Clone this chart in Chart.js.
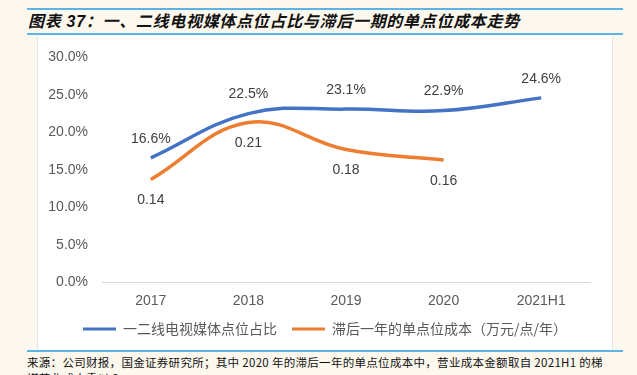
<!DOCTYPE html>
<html>
<head>
<meta charset="utf-8">
<script src="https://cdn.jsdelivr.net/npm/chart.js@4"></script>
<style>
  html, body { margin: 0; padding: 0; }
  body { width: 637px; height: 375px; background: #fdf8ee; position: relative; overflow: hidden;
         font-family: "Liberation Sans", "Noto Sans CJK SC", sans-serif; }
  .rule { position: absolute; left: 27px; width: 596px; height: 2px; background: #5bb4e5; }
  #title { position: absolute; left: 28px; top: 8px; font-size: 16px; font-weight: bold; font-style: italic;
           color: #111; font-family: "Liberation Sans", "Noto Sans CJK SC", sans-serif; letter-spacing: 0.7px; }
  #box { position: absolute; left: 37px; top: 35px; width: 574px; height: 315px; background: #fff;
         border-left: 1px solid #e6e6e6; border-right: 1px solid #e6e6e6; }
  #foot { position: absolute; left: 27px; top: 354px; width: 610px; font-size: 11.5px; line-height: 16px; color: #111;
          font-family: "Noto Sans CJK SC", sans-serif; letter-spacing: 0.3px; white-space: nowrap; }
</style>
</head>
<body>
<div class="rule" style="top:8px"></div>
<div id="title">图表 37：一、二线电视媒体点位占比与滞后一期的单点位成本走势</div>
<div class="rule" style="top:33px"></div>
<div id="box"><canvas id="c" width="574" height="315"></canvas></div>
<div class="rule" style="top:350px"></div>
<div id="foot">来源：公司财报，国金证券研究所；其中 2020 年的滞后一年的单点位成本中，营业成本金额取自 2021H1 的梯<br>媒营业成本乘以 2</div>
<script>
const categories = ["2017", "2018", "2019", "2020", "2021H1"];
const shareValues = [0.166, 0.225, 0.231, 0.229, 0.246];
const costValues = [0.137, 0.213, 0.177, 0.163, null];
const yTicks = [0, 0.05, 0.10, 0.15, 0.20, 0.25, 0.30];

// draw value labels above (share) / below (cost) each point
const valueLabels = {
  id: "valueLabels",
  afterDatasetsDraw(chart) {
    const ctx = chart.ctx;
    ctx.save();
    ctx.font = "14px 'Liberation Sans'";
    ctx.fillStyle = "#404040";
    ctx.textAlign = "center";
    ctx.textBaseline = "middle";
    chart.data.datasets.forEach((ds, i) => {
      chart.getDatasetMeta(i).data.forEach((pt, j) => {
        const v = ds.data[j];
        if (v == null) return;
        if (i === 0) ctx.fillText((v * 100).toFixed(1) + "%", pt.x, pt.y - 19);
        else ctx.fillText(v.toFixed(2), pt.x, pt.y + 21);
      });
    });
    ctx.restore();
  }
};

new Chart(document.getElementById("c"), {
  type: "line",
  data: {
    labels: categories,
    datasets: [
      {
        label: "一二线电视媒体点位占比",
        data: shareValues,
        borderColor: "#4472c4",
        backgroundColor: "#4472c4",
        borderWidth: 3.5,
        tension: 0.4,
        pointRadius: 0,
        yAxisID: "y"
      },
      {
        label: "滞后一年的单点位成本（万元/点/年）",
        data: costValues,
        borderColor: "#ed7d31",
        backgroundColor: "#ed7d31",
        borderWidth: 3.5,
        tension: 0.4,
        pointRadius: 0,
        yAxisID: "y1"
      }
    ]
  },
  options: {
    responsive: false,
    animation: false,
    layout: { padding: { left: 0, right: 0, top: 12, bottom: 4 } },
    scales: {
      x: {
        offset: true,
        grid: { display: false, drawTicks: false, offset: true },
        border: { color: "#d9d9d9", width: 1 },
        ticks: { color: "#595959", font: { size: 14, family: "Liberation Sans" }, padding: 11 }
      },
      y: {
        min: 0, max: 0.3,
        afterBuildTicks: axis => { axis.ticks = yTicks.map(v => ({ value: v })); },
        afterFit: axis => { axis.width = 64; },
        grid: { display: false, drawTicks: false },
        border: { display: false },
        ticks: {
          color: "#595959", font: { size: 14, family: "Liberation Sans" }, padding: 14,
          callback: v => (v * 100).toFixed(1) + "%"
        }
      },
      // secondary axis for the cost series, kept invisible; its width is the right margin
      y1: {
        position: "right",
        min: 0, max: 0.3,
        afterFit: axis => { axis.width = 22; },
        grid: { display: false, drawTicks: false },
        border: { display: false },
        ticks: { display: false }
      }
    },
    plugins: {
      legend: {
        position: "bottom",
        labels: {
          color: "#595959",
          font: { size: 14, family: "'Noto Sans CJK SC'" },
          boxWidth: 33, boxHeight: 3, padding: 1,
          // trailing ideographic space widens the gap between the two items
          generateLabels: chart => chart.data.datasets.map((ds, i) => ({
            text: i === 0 ? ds.label + "\u3000" : ds.label,
            fillStyle: ds.borderColor, strokeStyle: ds.borderColor,
            lineWidth: 0, datasetIndex: i, fontColor: "#595959"
          }))
        }
      },
      tooltip: { enabled: false }
    }
  },
  plugins: [valueLabels]
});
</script>
</body>
</html>
